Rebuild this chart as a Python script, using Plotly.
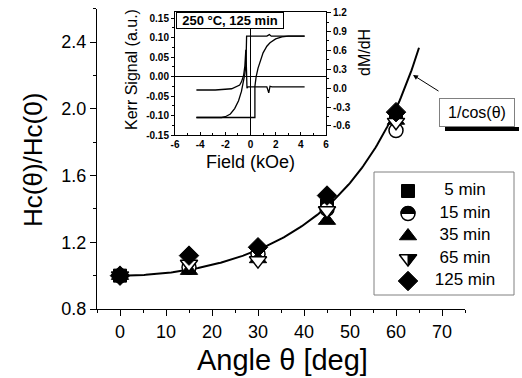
import numpy as np
import plotly.graph_objects as go

W, H = 522, 378
FONT = "Arial, Liberation Sans, Helvetica, sans-serif"

# ---------------- main chart data ----------------
angles = [0, 15, 30, 45, 60]
series_names = ["5 min", "15 min", "35 min", "65 min", "125 min"]
hc_5min = [1.00, 1.05, 1.14, 1.42, 1.95]
hc_15min = [1.00, 1.05, 1.13, 1.40, 1.87]
hc_35min = [1.00, 1.03, 1.10, 1.33, 1.93]
hc_65min = [1.00, 1.07, 1.09, 1.39, 1.92]
hc_125min = [1.00, 1.12, 1.17, 1.48, 1.98]
fit_label = "1/cos(θ)"
fit_angle_max = 65

x_ticks = [0, 10, 20, 30, 40, 50, 60, 70]
y_ticks = [0.8, 1.2, 1.6, 2.0, 2.4]

# ---------------- inset data ----------------
inset_label = "250 °C, 125 min"
kerr_desc_field = [4.3, 1.65, 1.5, 1.4, 1.3, -0.31, -0.31, -0.36, -0.46, -0.6, -0.72, -0.95, -1.26, -1.6, -2.0, -2.3, -4.3]
kerr_desc_signal = [0.104, 0.104, 0.108, 0.106, 0.104, 0.104, 0.045, 0.03, 0.005, -0.02, -0.038, -0.062, -0.082, -0.096, -0.103, -0.105, -0.105]
kerr_asc_field = [-4.3, 0.35, 0.35, 0.45, 0.6, 0.8, 1.0, 1.3, 1.55, 2.0, 2.5, 3.0, 4.3]
kerr_asc_signal = [-0.105, -0.105, -0.025, 0.0, 0.022, 0.045, 0.061, 0.078, 0.087, 0.097, 0.102, 0.104, 0.104]
dmdh_field = [-4.3, -2.8, -1.5, -0.86, -0.72, -0.55, -0.45, -0.37, -0.32, -0.28, -0.2, 1.3, 1.45, 1.55, 1.7, 4.3]
dmdh_value = [-0.03, -0.03, -0.01, 0.05, 0.10, 0.20, 0.35, 0.61, 0.30, 0.0, 0.02, 0.02, -0.075, 0.03, 0.02, 0.02]

inset_x_ticks = [-6, -4, -2, 0, 2, 4, 6]
inset_left_ticks = [-0.15, -0.10, -0.05, 0.00, 0.05, 0.10, 0.15]
inset_right_ticks = [-0.6, -0.3, 0.0, 0.3, 0.6, 0.9, 1.2]


def px(x):
    return x / W


def py(y):
    return 1 - y / H


fig = go.Figure()

# fit curve
theta = np.linspace(0, fit_angle_max, 200)
fig.add_trace(go.Scatter(x=theta, y=1 / np.cos(np.radians(theta)), mode="lines",
                         line=dict(color="black", width=2), xaxis="x", yaxis="y"))

series_vals = [hc_5min, hc_15min, hc_35min, hc_65min, hc_125min]
styles = [
    dict(symbol="square", size=13, color="black", line=dict(color="black", width=1)),
    dict(symbol="circle", size=14, color="white", line=dict(color="black", width=1.5)),
    dict(symbol="triangle-up", size=15, color="black", line=dict(color="black", width=1)),
    dict(symbol="triangle-down", size=15, color="white", line=dict(color="black", width=1.5)),
    dict(symbol="diamond", size=15, color="black", line=dict(color="black", width=1)),
]
for name, vals, st in zip(series_names, series_vals, styles):
    fig.add_trace(go.Scatter(x=angles, y=vals, mode="markers", name=name, marker=st,
                             xaxis="x", yaxis="y"))

# inset traces
fig.add_trace(go.Scatter(x=kerr_desc_field, y=kerr_desc_signal, mode="lines",
                         line=dict(color="black", width=1.3), xaxis="x2", yaxis="y2"))
fig.add_trace(go.Scatter(x=kerr_asc_field, y=kerr_asc_signal, mode="lines",
                         line=dict(color="black", width=1.3), xaxis="x2", yaxis="y2"))
fig.add_trace(go.Scatter(x=dmdh_field, y=dmdh_value, mode="lines",
                         line=dict(color="black", width=1.3), xaxis="x2", yaxis="y3"))

# manual legend on its own axes (pixel units)
LEG_X0, LEG_Y0, LEG_X1, LEG_Y1 = 374, 172, 514, 295
row_y = [104 - i * 22.5 for i in range(len(series_names))]
sym_x = 34
for y, st in zip(row_y, styles):
    fig.add_trace(go.Scatter(x=[sym_x], y=[y], mode="markers", marker=st, xaxis="x4", yaxis="y4"))
fig.add_trace(go.Scatter(x=[91] * len(series_names), y=row_y, mode="text", text=series_names,
                         textfont=dict(family=FONT, size=17, color="black"),
                         textposition="middle center", xaxis="x4", yaxis="y4"))

shapes = []
# half-black for 15 min legend symbol
cx, cy, r = sym_x, row_y[1], 7.0
shapes.append(dict(type="path", xref="x4", yref="y4",
                   path=f"M {cx - r},{cy} C {cx - r},{cy + 1.333 * r} {cx + r},{cy + 1.333 * r} {cx + r},{cy} Z",
                   fillcolor="black", line=dict(color="black", width=1)))
# right half black for 65 min legend symbol
cx, cy, r = sym_x, row_y[3], 7.5
rt, rs = r * 2 / np.sqrt(3), r / 2
shapes.append(dict(type="path", xref="x4", yref="y4",
                   path=f"M {cx},{cy + rs} L {cx + rt},{cy + rs} L {cx},{cy - r} Z",
                   fillcolor="black", line=dict(color="black", width=1)))
# legend box
shapes.append(dict(type="rect", xref="paper", yref="paper", x0=px(LEG_X0), x1=px(LEG_X1),
                   y0=py(LEG_Y1), y1=py(LEG_Y0), line=dict(color="#808080", width=1),
                   fillcolor="rgba(0,0,0,0)", layer="above"))
# shadow bar under 1/cos box
shapes.append(dict(type="rect", xref="paper", yref="paper", x0=px(445), x1=px(519),
                   y0=py(131), y1=py(127), line=dict(width=0), fillcolor="black", layer="above"))


def ann(text, x, y, size, angle=0, **kw):
    d = dict(text=text, x=px(x), y=py(y), xref="paper", yref="paper", showarrow=False,
             xanchor="center", yanchor="middle", textangle=angle,
             font=dict(family=FONT, size=size, color="black"))
    d.update(kw)
    return d


annotations = [
    ann("Hc(θ)/Hc(0)", 33, 160, 26, -90),
    ann("Angle θ [deg]", 282, 360, 29),
    ann("Kerr Signal (a.u.)", 132, 70, 16, -90),
    ann("dM/dH", 364, 53, 16, -90),
    ann("Field (kOe)", 250, 162, 18),
    ann(inset_label, 230, 20.5, 13, width=104, height=13, bgcolor="white", bordercolor="black",
        borderwidth=1, borderpad=1),
    ann(fit_label, 477, 112.5, 16, width=72, height=25, bgcolor="white",
        bordercolor="#808080", borderwidth=1),
    dict(text="", x=px(413), y=py(75), xref="paper", yref="paper", showarrow=True,
         ax=27, ay=17, arrowhead=2, arrowsize=1, arrowwidth=1, arrowcolor="black"),
]
annotations[5]["font"]["weight"] = "bold"

tick_font = dict(family=FONT, size=18, color="black")
inset_tick_font = dict(family=FONT, size=10, color="black", weight="bold")

fig.update_layout(
    width=W, height=H, margin=dict(l=0, r=0, t=0, b=0),
    paper_bgcolor="white", plot_bgcolor="white", showlegend=False, template="none",
    xaxis=dict(domain=[px(97), px(465)], range=[-5, 75], anchor="y", tickvals=x_ticks,
               ticks="outside", ticklen=6, tickwidth=1.2, tickcolor="black",
               minor=dict(dtick=5, tick0=0, ticks="outside", ticklen=3, tickcolor="black"),
               showline=True, linecolor="black", linewidth=1.2, showgrid=False, zeroline=False,
               tickfont=tick_font, automargin=False),
    yaxis=dict(domain=[py(309), py(8.7)], range=[0.8, 2.6], anchor="x", tickvals=y_ticks,
               tickformat=".1f", ticks="outside", ticklen=6, tickwidth=1.2, tickcolor="black",
               minor=dict(dtick=0.2, tick0=0.8, ticks="outside", ticklen=3, tickcolor="black"),
               showline=True, linecolor="black", linewidth=1.2, showgrid=False, zeroline=False,
               tickfont=tick_font, automargin=False),
    xaxis2=dict(domain=[px(175), px(326)], range=[-6, 6], anchor="y2", tickvals=inset_x_ticks,
                ticktext=[str(v) for v in inset_x_ticks], ticks="inside", ticklen=3, tickcolor="black",
                minor=dict(dtick=1, tick0=0, ticks="inside", ticklen=2, tickcolor="black"),
                showline=True, mirror=True, linecolor="black", linewidth=1, showgrid=False,
                zeroline=True, zerolinecolor="black", zerolinewidth=1,
                tickfont=inset_tick_font, automargin=False),
    yaxis2=dict(domain=[py(135), py(12)], range=[-0.15, 0.166], anchor="x2", tickvals=inset_left_ticks,
                ticktext=[f"{v:.2f}" for v in inset_left_ticks], ticks="outside", ticklen=3,
                tickcolor="black",
                minor=dict(dtick=0.025, tick0=0, ticks="outside", ticklen=2, tickcolor="black"),
                showline=True, linecolor="black", linewidth=1, showgrid=False,
                zeroline=True, zerolinecolor="black", zerolinewidth=1,
                tickfont=inset_tick_font, automargin=False),
    yaxis3=dict(overlaying="y2", side="right", anchor="x2", range=[-0.745, 1.21],
                tickvals=inset_right_ticks, ticktext=[f"{v:.1f}" for v in inset_right_ticks],
                ticks="outside", ticklen=4, tickcolor="black",
                minor=dict(dtick=0.15, tick0=0, ticks="outside", ticklen=2, tickcolor="black"),
                showline=True, linecolor="black", linewidth=1, showgrid=False, zeroline=False,
                tickfont=inset_tick_font, automargin=False),
    xaxis4=dict(domain=[px(LEG_X0), px(LEG_X1)], range=[0, LEG_X1 - LEG_X0], anchor="y4",
                visible=False, fixedrange=True),
    yaxis4=dict(domain=[py(LEG_Y1), py(LEG_Y0)], range=[0, LEG_Y1 - LEG_Y0], anchor="x4",
                visible=False, fixedrange=True),
    shapes=shapes,
    annotations=annotations,
)

fig.write_html("out.html", config={"displayModeBar": False},
               post_script="document.body.style.margin='0';document.body.style.overflow='hidden';")
